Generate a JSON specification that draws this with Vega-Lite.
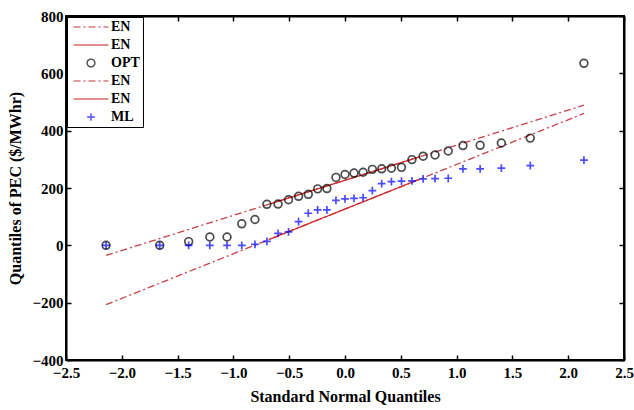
{
  "$schema": "https://vega.github.io/schema/vega-lite/v6.json",
  "width": 558,
  "height": 344,
  "autosize": {"type": "none"},
  "padding": {"left": 66, "top": 16, "right": 10, "bottom": 50},
  "background": "white",
  "config": {
    "font": "Liberation Serif",
    "view": {"stroke": "black", "strokeWidth": 2},
    "axis": {
      "domainColor": "black",
      "domainWidth": 2,
      "tickColor": "black",
      "tickWidth": 1.5,
      "tickSize": -5,
      "grid": false,
      "labelFont": "Liberation Serif",
      "labelFontWeight": "bold",
      "labelFontSize": 15,
      "labelColor": "black",
      "titleFont": "Liberation Serif",
      "titleFontWeight": "bold",
      "titleFontSize": 16,
      "titleColor": "black"
    },
    "legend": {
      "orient": "top-left",
      "offset": 1,
      "padding": 3,
      "strokeColor": "black",
      "fillColor": "white",
      "labelFont": "Liberation Serif",
      "labelFontWeight": "bold",
      "labelFontSize": 14,
      "labelColor": "black",
      "labelOffset": 13,
      "symbolOffset": 14,
      "rowPadding": 4,
      "symbolStrokeWidth": 1.4
    }
  },
  "datasets": {
    "lines": [
      {"series": "EN1", "x": -2.141, "y": -35},
      {"series": "EN1", "x": 2.141, "y": 489},
      {"series": "EN2", "x": -0.674, "y": 144.5},
      {"series": "EN2", "x": 0.674, "y": 309.5},
      {"series": "EN3", "x": -2.141, "y": -207},
      {"series": "EN3", "x": 2.141, "y": 460},
      {"series": "EN4", "x": -0.674, "y": 21.5},
      {"series": "EN4", "x": 0.674, "y": 231.5}
    ],
    "pts": [
      {"series": "OPT", "x": -2.141, "y": 0},
      {"series": "OPT", "x": -1.66, "y": 0},
      {"series": "OPT", "x": -1.401, "y": 13},
      {"series": "OPT", "x": -1.211, "y": 29},
      {"series": "OPT", "x": -1.057, "y": 29},
      {"series": "OPT", "x": -0.925, "y": 75},
      {"series": "OPT", "x": -0.807, "y": 90},
      {"series": "OPT", "x": -0.7, "y": 143},
      {"series": "OPT", "x": -0.6, "y": 144},
      {"series": "OPT", "x": -0.506, "y": 159},
      {"series": "OPT", "x": -0.416, "y": 171},
      {"series": "OPT", "x": -0.329, "y": 178},
      {"series": "OPT", "x": -0.245, "y": 197},
      {"series": "OPT", "x": -0.162, "y": 198},
      {"series": "OPT", "x": -0.081, "y": 237},
      {"series": "OPT", "x": 0, "y": 247},
      {"series": "OPT", "x": 0.081, "y": 252},
      {"series": "OPT", "x": 0.162, "y": 255},
      {"series": "OPT", "x": 0.245, "y": 265},
      {"series": "OPT", "x": 0.329, "y": 267},
      {"series": "OPT", "x": 0.416, "y": 269},
      {"series": "OPT", "x": 0.506, "y": 272},
      {"series": "OPT", "x": 0.6, "y": 299},
      {"series": "OPT", "x": 0.7, "y": 311},
      {"series": "OPT", "x": 0.807, "y": 315},
      {"series": "OPT", "x": 0.925, "y": 329},
      {"series": "OPT", "x": 1.057, "y": 348},
      {"series": "OPT", "x": 1.211, "y": 349},
      {"series": "OPT", "x": 1.401, "y": 357},
      {"series": "OPT", "x": 1.66, "y": 374},
      {"series": "OPT", "x": 2.141, "y": 635},
      {"series": "ML", "x": -2.141, "y": 0},
      {"series": "ML", "x": -1.66, "y": 0},
      {"series": "ML", "x": -1.401, "y": 0},
      {"series": "ML", "x": -1.211, "y": 0},
      {"series": "ML", "x": -1.057, "y": 0},
      {"series": "ML", "x": -0.925, "y": 0},
      {"series": "ML", "x": -0.807, "y": 3},
      {"series": "ML", "x": -0.7, "y": 14},
      {"series": "ML", "x": -0.6, "y": 42},
      {"series": "ML", "x": -0.506, "y": 47},
      {"series": "ML", "x": -0.416, "y": 83},
      {"series": "ML", "x": -0.329, "y": 112},
      {"series": "ML", "x": -0.245, "y": 124},
      {"series": "ML", "x": -0.162, "y": 124},
      {"series": "ML", "x": -0.081, "y": 157},
      {"series": "ML", "x": 0, "y": 162},
      {"series": "ML", "x": 0.081, "y": 164},
      {"series": "ML", "x": 0.162, "y": 166},
      {"series": "ML", "x": 0.245, "y": 191},
      {"series": "ML", "x": 0.329, "y": 215},
      {"series": "ML", "x": 0.416, "y": 222},
      {"series": "ML", "x": 0.506, "y": 224},
      {"series": "ML", "x": 0.6, "y": 225},
      {"series": "ML", "x": 0.7, "y": 232},
      {"series": "ML", "x": 0.807, "y": 233},
      {"series": "ML", "x": 0.925, "y": 234},
      {"series": "ML", "x": 1.057, "y": 267},
      {"series": "ML", "x": 1.211, "y": 267},
      {"series": "ML", "x": 1.401, "y": 269},
      {"series": "ML", "x": 1.66, "y": 278},
      {"series": "ML", "x": 2.141, "y": 297}
    ]
  },
  "layer": [
    {
      "data": {"name": "lines"},
      "mark": {"type": "line", "strokeWidth": 1.3},
      "encoding": {
        "x": {
          "field": "x", "type": "quantitative",
          "scale": {"domain": [-2.5, 2.5], "nice": false, "zero": false},
          "axis": {"orient": "bottom", "values": [-2.5, -2, -1.5, -1, -0.5, 0, 0.5, 1, 1.5, 2, 2.5], "labelPadding": 10, "title": "Standard Normal Quantiles", "titlePadding": 8, "labelFlush": false}
        },
        "y": {
          "field": "y", "type": "quantitative",
          "scale": {"domain": [-400, 800], "nice": false, "zero": false},
          "axis": {"orient": "left", "values": [-400, -200, 0, 200, 400, 600, 800], "labelPadding": 8, "title": "Quantiles of PEC ($/MWhr)", "titlePadding": 8, "labelFlush": false}
        },
        "color": {
          "field": "series", "type": "nominal",
          "scale": {"domain": ["EN1", "EN2", "OPT", "EN3", "EN4", "ML"], "range": ["#c8404a", "#d02c2c", "black", "#c8404a", "#d02c2c", "blue"]},
          "legend": {"title": null, "labelExpr": "indexof(datum.label, 'EN') == 0 ? 'EN' : datum.label"}
        },
        "strokeDash": {
          "field": "series", "type": "nominal",
          "scale": {"domain": ["EN1", "EN2", "OPT", "EN3", "EN4", "ML"], "range": [[7, 3, 2, 3], [1, 0], [1, 0], [7, 3, 2, 3], [1, 0], [1, 0]]},
          "legend": {"title": null, "labelExpr": "indexof(datum.label, 'EN') == 0 ? 'EN' : datum.label"}
        }
      }
    },
    {
      "data": {"name": "pts"},
      "mark": {"type": "point", "filled": false, "strokeWidth": 1.7},
      "encoding": {
        "x": {
          "field": "x", "type": "quantitative",
          "axis": {"orient": "top", "values": [-2.5, -2, -1.5, -1, -0.5, 0, 0.5, 1, 1.5, 2, 2.5], "labels": false, "title": null}
        },
        "y": {
          "field": "y", "type": "quantitative",
          "axis": {"orient": "right", "values": [-400, -200, 0, 200, 400, 600, 800], "labels": false, "title": null}
        },
        "color": {
          "field": "series", "type": "nominal",
          "legend": {"title": null, "labelExpr": "indexof(datum.label, 'EN') == 0 ? 'EN' : datum.label"}
        },
        "shape": {
          "field": "series", "type": "nominal",
          "scale": {"domain": ["EN1", "EN2", "OPT", "EN3", "EN4", "ML"], "range": ["M-3,0H3", "M-3,0H3", "circle", "M-3,0H3", "M-3,0H3", "M-1,0H1M0,-1V1"]},
          "legend": {"title": null, "labelExpr": "indexof(datum.label, 'EN') == 0 ? 'EN' : datum.label"}
        },
        "size": {
          "field": "series", "type": "nominal",
          "scale": {"type": "ordinal", "domain": ["EN1", "EN2", "OPT", "EN3", "EN4", "ML"], "range": [136, 136, 60, 136, 136, 60]},
          "legend": {"title": null, "labelExpr": "indexof(datum.label, 'EN') == 0 ? 'EN' : datum.label"}
        }
      }
    }
  ],
  "resolve": {"axis": {"x": "independent", "y": "independent"}}
}
